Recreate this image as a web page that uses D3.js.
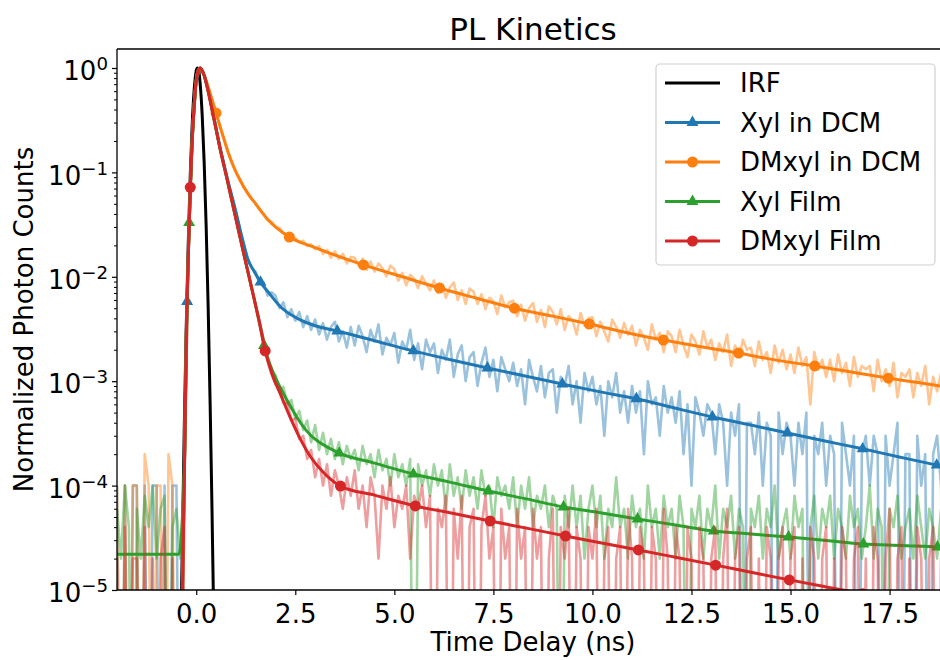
<!DOCTYPE html>
<meta charset="utf-8">
<style>

body {
  margin: 0;
  background: #fff;
}

text {
  font-family: "DejaVu Sans", sans-serif;
}

.raw {
  fill: none;
  stroke-width: 2.6px;
  stroke-opacity: 0.45;
  stroke-linejoin: round;
}

.fit {
  fill: none;
  stroke-width: 3px;
}

.spine {
  stroke: #000;
  stroke-width: 1.3px;
}

</style>
<svg width="940" height="660"></svg>
<script src="https://d3js.org/d3.v7.min.js"></script>
<script>

// raw histograms: photon counts per 0.1 ns bin, first bin at -2.0 ns
const rawStart = -2.0;
const rawStep = 0.1;

const peakXylDCM = 10000;
const rawXylDCM = [
  1,0,1,0,1,1,0,1,0,1,
  1,0,1,0,1,1,0,1,160,2100,
  7600,10000,8500,6200,4100,2700,1740,1200,830,590,
  417,292,206,150,121,112,86,88,66,71,
  66,50,57,41,49,38,46,33,42,31,
  39,28,36,25,33,37,24,30,21,33,
  22,34,27,19,31,24,35,18,26,22,
  29,15,24,20,31,16,23,13,25,19,
  23,12,20,16,25,11,18,22,10,17,
  19,9,15,21,11,16,8,17,13,10,
  15,9,13,6,16,11,8,14,7,12,
  13,5,11,9,14,6,10,4,12,8,
  11,6,9,3,10,7,12,5,8,4,
  9,5,8,2,10,6,7,3,9,5,
  7,4,8,2,6,1,7,5,3,6,
  5,2,6,4,1,5,3,6,0,4,
  4,2,5,1,4,3,0,5,2,4,
  3,1,4,2,5,0,3,2,4,1,
  3,2,0,4,2,1,3,0,2,3,
  1,3,2,0,3,1,2,4,0,2,
  2,0,3,1,2,0,2,3,1,0,2
];

const peakDMxylDCM = 10000;
const rawDMxylDCM = [
  1,0,1,0,1,1,0,2,1,0,
  1,1,0,2,1,0,0,1,160,2100,
  7600,10000,8500,6600,5000,3700,2750,2090,1580,1230,
  1000,855,728,636,556,505,441,405,349,338,
  301,294,262,251,230,236,214,221,197,205,
  184,197,166,181,152,175,148,166,134,155,
  152,128,149,117,140,112,134,121,101,128,
  118,92,109,83,104,96,78,101,86,74,
  92,70,85,63,79,88,60,74,55,77,
  72,55,68,49,63,58,44,66,51,57,
  59,42,54,38,50,56,37,48,33,52,
  46,35,49,31,42,38,28,45,34,40,
  41,27,37,30,24,39,33,26,36,28,
  34,22,31,26,20,35,25,29,19,30,
  27,19,31,22,17,28,24,18,30,21,
  25,16,23,19,28,14,22,17,25,20,
  21,14,24,16,19,12,22,15,20,13,
  18,12,21,14,17,6,19,13,16,11,
  16,10,18,12,15,9,17,11,14,13,
  14,8,16,10,13,9,15,7,12,11,
  13,7,12,9,14,6,11,8,12,7,10
];

const peakXylFilm = 50000;
const rawXylFilm = [
  3,1,5,2,0,3,1,4,2,5,
  1,3,4,0,2,3,1,6,800,10500,
  38000,50000,42500,30100,19900,13100,8500,5870,3970,2690,
  1820,1230,830,561,388,269,186,126,88,62,
  57,41,44,30,33,22,26,17,21,13,
  19,11,16,10,14,9,13,8,12,9,
  11,7,12,8,10,6,11,7,9,5,
  10,6,8,5,9,0,8,5,7,4,
  8,5,7,3,8,4,6,3,7,4,
  6,3,7,4,5,2,6,4,5,3,
  6,2,5,3,6,2,4,3,5,2,
  4,3,0,4,2,5,2,4,1,3,
  5,2,4,1,3,2,6,2,3,1,
  4,2,3,1,5,2,3,1,4,2,
  3,1,4,2,0,3,2,4,1,3,
  2,5,1,3,2,4,1,3,2,0,
  3,2,4,1,3,2,5,1,2,3,
  1,4,2,3,0,2,4,1,3,2,
  4,1,3,2,1,4,2,3,1,2,
  5,1,3,2,0,3,2,4,1,2,
  3,1,4,2,1,3,2,1,3,2,1
];

const peakDMxylFilm = 50000;
const rawDMxylFilm = [
  1,0,2,0,1,1,0,2,0,1,
  0,1,2,0,1,0,0,6,800,10500,
  38000,50000,42500,30100,19900,13100,8500,5870,3970,2690,
  1820,1230,830,561,388,269,186,126,80,66,
  47,44,31,31,21,22,14,15,9,11,
  6,9,5,8,4,7,5,3,6,4,
  7,3,5,2,6,4,1,5,3,6,
  2,4,3,5,1,4,3,5,2,4,
  0,3,2,4,0,3,1,4,0,2,
  3,0,2,4,1,2,0,3,1,2,
  0,3,1,2,0,3,1,2,0,1,
  3,0,2,1,3,0,2,1,0,2,
  1,3,0,1,2,0,1,2,0,3,
  1,0,2,1,0,2,1,0,3,1,
  0,2,1,0,2,1,0,2,1,0,
  1,2,0,1,3,0,1,2,0,1,
  2,0,1,0,2,1,0,1,2,0,
  1,2,0,1,0,2,1,0,1,2,
  0,1,0,2,1,0,1,2,0,1,
  0,2,1,0,1,3,0,1,2,0,
  1,0,2,1,0,1,2,0,1,0,2
];

// instrument response, [time ns, normalized]
const irf = [
  [-0.45, 1e-6], [-0.37, 1e-5], [-0.3, 4e-4], [-0.25, 3.6e-3], [-0.2, 0.022],
  [-0.15, 0.097], [-0.1, 0.30], [-0.05, 0.63], [0, 0.94], [0.03, 1.0],
  [0.06, 0.96], [0.1, 0.70], [0.15, 0.355], [0.2, 0.125], [0.25, 0.031],
  [0.3, 5.3e-3], [0.35, 6.3e-4], [0.4, 5.3e-5], [0.43, 1e-5], [0.5, 1e-6]
];

// fitted decays, [time ns, normalized]
const fitXylDCM = [
  [-0.45, 1e-6], [-0.35, 1e-5], [-0.3, 1.26e-4], [-0.25, 2.8e-3], [-0.2, 0.016],
  [-0.15, 0.072], [-0.1, 0.21], [-0.05, 0.45], [0, 0.76], [0.05, 0.95], [0.1, 1.0],
  [0.2, 0.85], [0.3, 0.62], [0.45, 0.33], [0.6, 0.174], [0.8, 0.083], [1.0, 0.042],
  [1.1, 0.029], [1.2, 0.0204], [1.3, 0.0148], [1.45, 0.0115], [1.62, 0.0089],
  [1.85, 0.0069], [2.12, 0.0052], [2.55, 0.0040], [3.0, 0.0034], [3.56, 0.00303],
  [4.5, 0.00244], [5.48, 0.00195], [6.5, 0.00158], [7.35, 0.00134], [8.3, 0.00112],
  [9.24, 0.00094], [10.2, 0.00079], [11.11, 0.00068], [12.1, 0.00055], [13.03, 0.000454],
  [14.0, 0.00038], [14.92, 0.000319], [15.9, 0.000266], [16.82, 0.000225],
  [17.8, 0.000186], [18.69, 0.000157], [19.2, 0.000143]
];

const fitDMxylDCM = [
  [-0.45, 1e-6], [-0.35, 1e-5], [-0.3, 1.26e-4], [-0.25, 2.8e-3], [-0.2, 0.016],
  [-0.15, 0.072], [-0.1, 0.21], [-0.05, 0.45], [0, 0.76], [0.05, 0.95], [0.1, 1.0],
  [0.2, 0.85], [0.35, 0.575], [0.5, 0.37], [0.65, 0.24], [0.8, 0.158], [0.95, 0.112],
  [1.1, 0.085], [1.3, 0.063], [1.5, 0.050], [1.8, 0.0355], [2.35, 0.024], [3.0, 0.019],
  [4.22, 0.0130], [5.2, 0.0100], [6.14, 0.0078], [7.1, 0.0062], [8.03, 0.0050],
  [9.0, 0.0042], [9.92, 0.00353], [10.9, 0.0029], [11.79, 0.00248], [12.7, 0.00215],
  [13.69, 0.00186], [14.6, 0.0016], [15.61, 0.00140], [16.5, 0.00123], [17.47, 0.00107],
  [18.3, 0.00096], [19.2, 0.00085]
];

const fitXylFilm = [
  [-2.1, 2.2e-5], [-0.44, 2.2e-5], [-0.3, 1.5e-4], [-0.25, 2.8e-3], [-0.2, 0.016],
  [-0.15, 0.072], [-0.1, 0.21], [-0.05, 0.45], [0, 0.76], [0.05, 0.95], [0.1, 1.0],
  [0.2, 0.85], [0.3, 0.60], [0.45, 0.32], [0.6, 0.17], [0.8, 0.079], [1.0, 0.036],
  [1.2, 0.0166], [1.4, 0.0078], [1.6, 0.00355], [1.74, 0.0020], [1.9, 0.00132],
  [2.12, 0.00087], [2.35, 0.00060], [2.63, 0.00040], [2.9, 0.00030], [3.13, 0.000257],
  [3.61, 0.000205], [4.5, 0.000164], [5.48, 0.000129], [6.4, 0.000108], [7.37, 8.87e-5],
  [8.3, 7.5e-5], [9.27, 6.24e-5], [10.2, 5.5e-5], [11.14, 4.79e-5], [12.1, 4.2e-5],
  [13.06, 3.67e-5], [14.0, 3.44e-5], [14.95, 3.22e-5], [15.9, 2.98e-5], [16.84, 2.76e-5],
  [17.8, 2.67e-5], [18.71, 2.58e-5], [19.2, 2.55e-5]
];

const fitDMxylFilm = [
  [-0.45, 1e-6], [-0.35, 1e-5], [-0.3, 1.26e-4], [-0.25, 2.8e-3], [-0.2, 0.016],
  [-0.15, 0.072], [-0.1, 0.21], [-0.05, 0.45], [0, 0.76], [0.05, 0.95], [0.1, 1.0],
  [0.2, 0.85], [0.3, 0.60], [0.45, 0.32], [0.6, 0.17], [0.8, 0.079], [1.0, 0.036],
  [1.2, 0.0166], [1.4, 0.0078], [1.6, 0.00355], [1.74, 0.00195], [1.9, 0.00120],
  [2.12, 0.00076], [2.35, 0.00047], [2.55, 0.00032], [2.88, 0.00019], [3.2, 0.000135],
  [3.64, 9.9e-5], [4.5, 8.1e-5], [5.53, 6.38e-5], [6.5, 5.4e-5], [7.42, 4.58e-5],
  [8.4, 3.87e-5], [9.32, 3.29e-5], [10.2, 2.84e-5], [11.16, 2.42e-5], [12.1, 2.06e-5],
  [13.11, 1.73e-5], [14.0, 1.48e-5], [14.97, 1.25e-5], [15.9, 1.07e-5], [16.82, 9.2e-6],
  [17.8, 7.8e-6], [19.2, 6.2e-6]
];

// marker positions on each fit
const markXylDCM = [
  [-0.23, 0.0058], [1.62, 0.0089], [3.56, 0.00303], [5.48, 0.00195], [7.35, 0.00134],
  [9.24, 0.00094], [11.11, 0.00068], [13.03, 0.000454], [14.92, 0.000319],
  [16.82, 0.000225], [18.69, 0.000157]
];
const markDMxylDCM = [
  [0.5, 0.37], [2.35, 0.024], [4.22, 0.0130], [6.14, 0.0078], [8.03, 0.0050],
  [9.92, 0.00353], [11.79, 0.00248], [13.69, 0.00186], [15.61, 0.00140], [17.47, 0.00107]
];
const markXylFilm = [
  [-0.18, 0.033], [1.71, 0.0022], [3.61, 0.000205], [5.48, 0.000129], [7.37, 8.87e-5],
  [9.27, 6.24e-5], [11.14, 4.79e-5], [13.06, 3.67e-5], [14.95, 3.22e-5],
  [16.84, 2.76e-5], [18.71, 2.58e-5]
];
const markDMxylFilm = [
  [-0.15, 0.072], [1.74, 0.00195], [3.64, 9.9e-5], [5.53, 6.38e-5], [7.42, 4.58e-5],
  [9.32, 3.29e-5], [11.16, 2.42e-5], [13.11, 1.73e-5], [14.97, 1.25e-5], [16.82, 9.2e-6]
];

const xTicks = [0, 2.5, 5, 7.5, 10, 12.5, 15, 17.5];
const yTicks = [1e-5, 1e-4, 1e-3, 1e-2, 1e-1, 1];
const yTickExp = ["\u22125", "\u22124", "\u22123", "\u22122", "\u22121", "0"];

const series = [
  {name: "Xyl in DCM", color: "#1f77b4", raw: rawXylDCM, peak: peakXylDCM, fit: fitXylDCM, marks: markXylDCM, symbol: "tri"},
  {name: "DMxyl in DCM", color: "#ff7f0e", raw: rawDMxylDCM, peak: peakDMxylDCM, fit: fitDMxylDCM, marks: markDMxylDCM, symbol: "dot"},
  {name: "Xyl Film", color: "#2ca02c", raw: rawXylFilm, peak: peakXylFilm, fit: fitXylFilm, marks: markXylFilm, symbol: "tri"},
  {name: "DMxyl Film", color: "#d62728", raw: rawDMxylFilm, peak: peakDMxylFilm, fit: fitDMxylFilm, marks: markDMxylFilm, symbol: "dot"}
];

const plotLeft = 117, plotRight = 949, plotTop = 49, plotBottom = 590;

const svg = d3.select("svg");

const x = d3.scaleLinear().domain([-2, 19]).range([plotLeft, plotRight]);
const y = d3.scaleLog().domain([1e-5, 1.52]).range([plotBottom, plotTop]);

// zero counts go straight down past the axis, like log clipping
const floorY = v => y(Math.max(v, 1e-8));

const symbols = {
  tri: d3.symbol().type(d3.symbolTriangle).size(62),
  dot: d3.symbol().type(d3.symbolCircle).size(95)
};

svg.append("defs").append("clipPath").attr("id", "plotclip")
  .append("rect")
  .attr("x", plotLeft).attr("y", plotTop)
  .attr("width", plotRight - plotLeft).attr("height", plotBottom - plotTop);

const plot = svg.append("g").attr("clip-path", "url(#plotclip)");

const fitLine = d3.line()
  .x(d => x(d[0]))
  .y(d => floorY(d[1]))
  .curve(d3.curveMonotoneX);

plot.append("path")
  .datum(irf)
  .attr("class", "fit")
  .attr("stroke", "#000")
  .attr("d", fitLine);

series.forEach(s => {
  const rawLine = d3.line()
    .x((d, i) => x(rawStart + i * rawStep))
    .y(d => floorY(d / s.peak));

  plot.append("path")
    .datum(s.raw)
    .attr("class", "raw")
    .attr("stroke", s.color)
    .attr("d", rawLine);

  plot.append("path")
    .datum(s.fit)
    .attr("class", "fit")
    .attr("stroke", s.color)
    .attr("d", fitLine);

  plot.selectAll(null)
    .data(s.marks)
    .join("path")
    .attr("transform", d => `translate(${x(d[0])},${floorY(d[1])})`)
    .attr("fill", s.color)
    .attr("d", symbols[s.symbol]());
});

// axes
const gx = svg.append("g")
  .attr("transform", `translate(0,${plotBottom})`)
  .call(d3.axisBottom(x).tickValues(xTicks).tickFormat(d3.format(".1f")).tickSize(5).tickPadding(10));
gx.select(".domain").remove();
gx.attr("font-size", 26).attr("font-family", "DejaVu Sans");
gx.selectAll(".tick line").attr("stroke-width", 1.2);

const yMinor = y.ticks().filter(v => yTicks.indexOf(v) < 0 && v < 1.52);
const gyMinor = svg.append("g")
  .attr("transform", `translate(${plotLeft},0)`)
  .call(d3.axisLeft(y).tickValues(yMinor).tickFormat(() => "").tickSize(3));
gyMinor.select(".domain").remove();
gyMinor.selectAll(".tick line").attr("stroke-width", 1);

const gy = svg.append("g")
  .attr("transform", `translate(${plotLeft},0)`)
  .call(d3.axisLeft(y).tickValues(yTicks).tickFormat(() => "").tickSize(5).tickPadding(4));
gy.select(".domain").remove();
gy.attr("font-size", 26).attr("font-family", "DejaVu Sans");
gy.selectAll(".tick line").attr("stroke-width", 1.2);
gy.selectAll(".tick text").each(function(d, i) {
  const t = d3.select(this).attr("dy", "0.45em");
  t.append("tspan").text("10");
  t.append("tspan").attr("dy", "-0.55em").attr("font-size", "0.7em").text(yTickExp[i]);
});

// spines (right one falls just outside the picture)
svg.append("line").attr("class", "spine").attr("x1", plotLeft).attr("x2", plotLeft).attr("y1", plotTop).attr("y2", plotBottom);
svg.append("line").attr("class", "spine").attr("x1", plotLeft).attr("x2", plotRight).attr("y1", plotBottom).attr("y2", plotBottom);
svg.append("line").attr("class", "spine").attr("x1", plotLeft).attr("x2", plotRight).attr("y1", plotTop).attr("y2", plotTop);
svg.append("line").attr("class", "spine").attr("x1", plotRight).attr("x2", plotRight).attr("y1", plotTop).attr("y2", plotBottom);

// titles
svg.append("text")
  .attr("x", (plotLeft + plotRight) / 2).attr("y", 40)
  .attr("text-anchor", "middle")
  .attr("font-size", 31)
  .text("PL Kinetics");

svg.append("text")
  .attr("x", (plotLeft + plotRight) / 2).attr("y", 651)
  .attr("text-anchor", "middle")
  .attr("font-size", 26)
  .text("Time Delay (ns)");

svg.append("text")
  .attr("transform", `translate(33,${(plotTop + plotBottom) / 2}) rotate(-90)`)
  .attr("text-anchor", "middle")
  .attr("font-size", 26)
  .text("Normalized Photon Counts");

// legend
const legend = svg.append("g");
legend.append("rect")
  .attr("x", 656).attr("y", 64)
  .attr("width", 279).attr("height", 201)
  .attr("rx", 4)
  .attr("fill", "#fff").attr("fill-opacity", 0.8)
  .attr("stroke", "#d0d0d0").attr("stroke-width", 1.2);

const entries = [{name: "IRF", color: "#000", symbol: null}].concat(series);
entries.forEach((e, i) => {
  const ly = 83 + i * 39.5;
  legend.append("line")
    .attr("x1", 665).attr("x2", 720).attr("y1", ly).attr("y2", ly)
    .attr("stroke", e.color).attr("stroke-width", 3);
  if (e.symbol) {
    legend.append("path")
      .attr("transform", `translate(692.5,${ly})`)
      .attr("fill", e.color)
      .attr("d", symbols[e.symbol]());
  }
  legend.append("text")
    .attr("x", 740).attr("y", ly).attr("dy", "0.36em")
    .attr("font-size", 26)
    .text(e.name);
});

</script>
